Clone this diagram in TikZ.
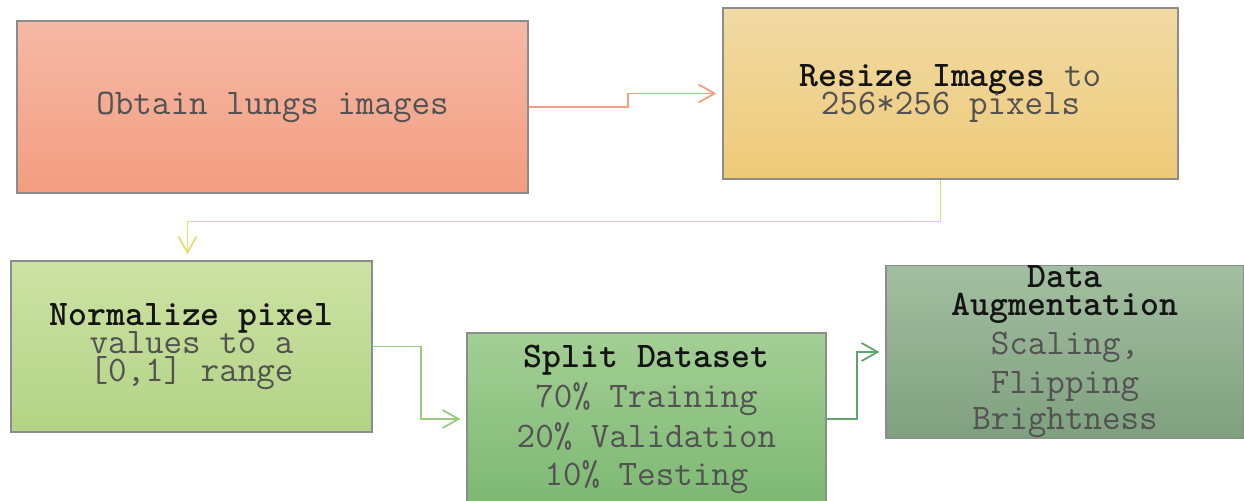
\documentclass[tikz,border=0pt]{standalone}
\usepackage{tikz}
\usetikzlibrary{arrows.meta,calc}
\definecolor{redtop}{HTML}{F5B9A6}
\definecolor{redbot}{HTML}{F39D80}
\definecolor{yeltop}{HTML}{F1DAA4}
\definecolor{yelbot}{HTML}{EDCA78}
\definecolor{limetop}{HTML}{CDE2A4}
\definecolor{limebot}{HTML}{B2D385}
\definecolor{greentop}{HTML}{A3CF94}
\definecolor{greenbot}{HTML}{7DB873}
\definecolor{sagetop}{HTML}{A3BFA1}
\definecolor{sagebot}{HTML}{7FA07F}
\definecolor{redline}{HTML}{F3A07F}
\definecolor{yelline}{HTML}{E3DD72}
\definecolor{limeline}{HTML}{9BCB7E}
\definecolor{greenline}{HTML}{62A56C}
\newcommand{\stagefont}{\ttfamily\fontsize{18}{14}\selectfont\setlength{\lineskiplimit}{-20pt}}
\newcommand{\heading}[1]{{\bfseries\color{black!92}#1}}
\tikzstyle{stage} = [rectangle, draw=black!45, line width=0.6pt, text centered, align=center, text=black!68, font=\stagefont]
\tikzstyle{connector} = [line width=0.9pt, -{Straight Barb[length=8pt,width=9pt]}, shorten >=3pt]

\begin{document}
\begin{tikzpicture}[x=0.5pt, y=-0.5pt]
            \useasboundingbox (0,0) rectangle (1244,501);
            \node (obtain) [stage, top color=redtop, bottom color=redbot, minimum width=255.5pt, minimum height=86pt] at (272.5,107) {Obtain lungs images};
            \node (resize) [stage, top color=yeltop, bottom color=yelbot, minimum width=227.5pt, minimum height=85.5pt] at (950.5,93.5) {
                \heading{Resize Images} to\\
                256*256 pixels
            };
            \node (normalize) [stage, top color=limetop, bottom color=limebot, minimum width=180.5pt, minimum height=85.5pt] at (191.5,346.5) {
                \heading{Normalize pixel}\\
                values to a\\
                {[0,1]} range
            };
            \node (split) [stage, top color=greentop, bottom color=greenbot, minimum width=179.5pt, minimum height=86pt, inner ysep=0pt] at (646.5,419) {
                \heading{Split Dataset}\\[6pt]
                70\% Training\\[6pt]
                20\% Validation\\[5pt]
                10\% Testing
            };
            \node (augment) [stage, top color=sagetop, bottom color=sagebot, minimum width=179pt, minimum height=86pt, inner ysep=0pt] at (1065,352) {
                \heading{Data}\\
                \heading{Augmentation}\\[5.5pt]
                Scaling,\\[5.5pt]
                Flipping\\[4pt]
                Brightness
            };
            \draw [connector, redline] (obtain.east) -- ++(99,0) |- (resize.west);
            \draw [connector, yelline] ([xshift=-5pt]resize.south) -- ++(0,42) -| ([xshift=-2pt]normalize.north);
            \draw [connector, limeline] (normalize.east) -- ++(48,0) |- (split.west);
            \draw [connector, greenline] (split.east) -- ++(30,0) |- (augment.west);
        \end{tikzpicture}
\end{document}
